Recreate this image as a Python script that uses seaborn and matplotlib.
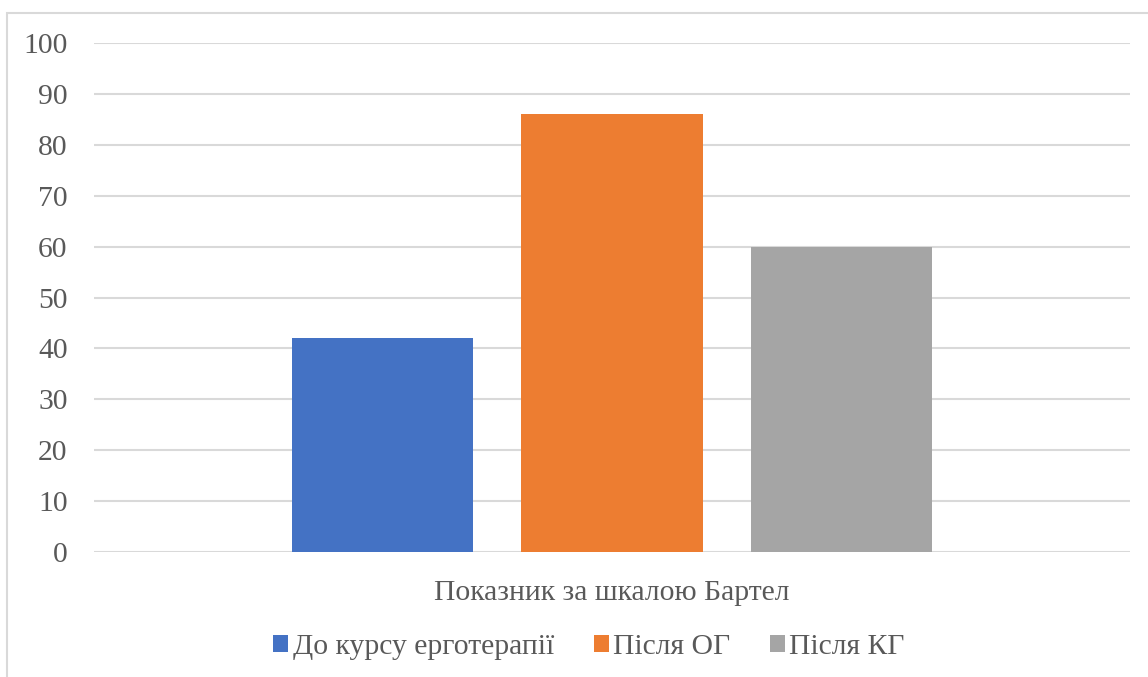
import pandas as pd
import seaborn as sns
import matplotlib.pyplot as plt
from matplotlib.patches import Rectangle

# data
category = ["Показник за шкалою Бартел"]
series = ["До курсу ерготерапії", "Після ОГ", "Після КГ"]
values = [42, 86, 60]
colors = ["#4472C4", "#ED7D31", "#A5A5A5"]

df = pd.DataFrame({
    "cat": category * len(series),
    "series": series,
    "value": values,
})

sns.set_style("white")
plt.rcParams["font.family"] = ["Liberation Serif", "DejaVu Serif"]
text_color = "#595959"
grid_color = "#D9D9D9"

fig = plt.figure(figsize=(11.48, 6.77), dpi=100)

# outer chart border (Excel chart area)
fig.patches.append(Rectangle((7 / 1148, -0.2), 1.5, 0.2 + (1 - 13 / 677),
                             transform=fig.transFigure, fill=False,
                             edgecolor=grid_color, linewidth=1.5, zorder=0))

ax = fig.add_axes([94 / 1148, 1 - 552 / 677, (1130 - 94) / 1148, (552 - 43) / 677])

sns.barplot(data=df, x="cat", y="value", hue="series", palette=colors,
            width=0.666, gap=0.213, ax=ax, legend=True, saturation=1,
            linewidth=0)

ax.set_xlim(-0.5, 0.5)
ax.set_ylim(0, 100)
ax.set_yticks(range(0, 101, 10))
ax.yaxis.grid(True, color=grid_color, linewidth=1.5)
ax.set_axisbelow(True)
for s in ax.spines.values():
    s.set_visible(False)
ax.tick_params(axis="both", length=0, labelsize=21.3, colors=text_color)
ax.tick_params(axis="y", pad=19)
ax.tick_params(axis="x", pad=20)
ax.set_xlabel("")
ax.set_ylabel("")

handles, labels = ax.get_legend_handles_labels()
ax.get_legend().remove()
fig.legend(handles, labels, loc="center", bbox_to_anchor=(589 / 1148, 1 - 647 / 677),
           ncol=3, frameon=False, fontsize=21.3, handlelength=0.5, handleheight=0.5,
           handletextpad=0.15, columnspacing=1.35, labelcolor=text_color)

fig.savefig("out.png", dpi=100)
